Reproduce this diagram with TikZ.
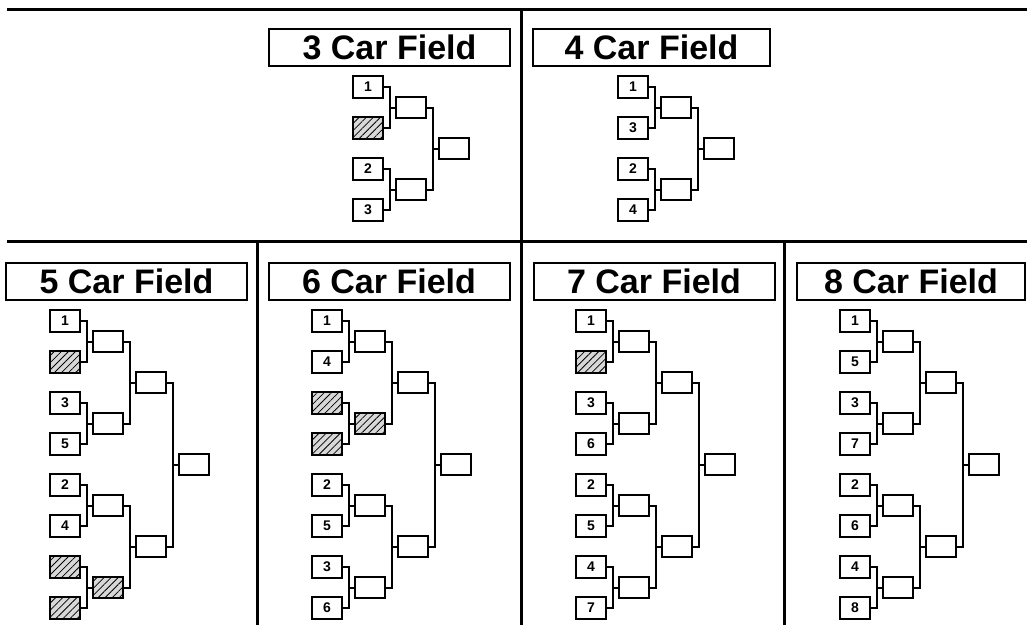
\documentclass[tikz,border=0pt]{standalone}
\usepackage{fontspec}
\setmainfont{Liberation Sans}
\usepackage{xcolor,tikz}
\usetikzlibrary{positioning,calc,patterns.meta}
\definecolor{byeGrey}{HTML}{D8D8D8}

\tikzset{
  seedbox/.style={draw, line width=2pt, minimum width=30pt, minimum height=22pt,
    inner sep=0pt, outer sep=0pt, font=\fontsize{14}{14}\selectfont\bfseries},
  roundbox/.style={seedbox, minimum height=21pt},
  byebox/.style={seedbox, preaction={fill=byeGrey},
    pattern={Lines[angle=45,distance=5pt,line width=0.8pt]}},
  byeround/.style={byebox, minimum height=21pt},
  title/.style={draw, line width=2pt, minimum width=241pt, minimum height=37pt,
    inner sep=0pt, outer sep=0pt, font=\fontsize{34}{36}\selectfont\bfseries},
  wire/.style={line width=2pt},
  rule/.style={line width=3pt}
}

% seeds of one field, top to bottom
\newcommand\seedcol[4]{% #1 field, #2 left x, #3 first centre y, #4 label/style list
  \foreach [count=\i] \lab/\sty in {#4}
    \node[\sty, anchor=west] (#1s\i) at (#2, #3 + \i*\pitch - \pitch) {\lab};
}
% two boxes feed one box in the next column
\newcommand\joinpair[4]{% #1, #2 feeders, #3 new box, #4 its style
  \path (#1.east) -- (#2.east) coordinate[midway] (#3m);
  \node[#4, right=13pt of #3m] (#3) {};
  \draw[wire] (#1.east) -- ++(7,0) |- (#2.east);
  \draw[wire] (#3.west) -- ++(-6,0);
}
\newcommand\nextround[4]{% #1 from, #2 to, #3 field, #4 style list
  \foreach [count=\k] \sty in {#4} {
    \pgfmathtruncatemacro\ia{2*\k-1}
    \pgfmathtruncatemacro\ib{2*\k}
    \joinpair{#3#1\ia}{#3#1\ib}{#3#2\k}{\sty}
  }
}

\begin{document}
\begin{tikzpicture}[x=1pt, y=-1pt]

% --- PARAMETERS ---
\def\pitch{41}     % seed to seed
\def\topY{87}      % first seed, top row
\def\lowY{321}     % first seed, bottom row

\useasboundingbox (0,0) rectangle (1027,625);
\clip (0,0) rectangle (1027,625);

% --- FRAME ---
\draw[rule] (7,9) -- (1027,9);
\draw[rule] (7,241) -- (1027,241);
\draw[rule] (521,9) -- (521,625);
\draw[rule] (257,241) -- (257,625);
\draw[rule] (784,241) -- (784,625);

% --- 3 CAR FIELD ---
\node[title] (t3) at (389.5,47) {3 Car Field};
\seedcol{f3}{353}{\topY}{1/seedbox,/byebox,2/seedbox,3/seedbox}
\nextround{s}{a}{f3}{roundbox,roundbox}
\nextround{a}{b}{f3}{roundbox}

% --- 4 CAR FIELD ---
\node[title, minimum width=237pt] (t4) at (651.5,47) {4 Car Field};
\seedcol{f4}{618}{\topY}{1/seedbox,3/seedbox,2/seedbox,4/seedbox}
\nextround{s}{a}{f4}{roundbox,roundbox}
\nextround{a}{b}{f4}{roundbox}

% --- 5 CAR FIELD ---
\node[title] (t5) at (126.5,281) {5 Car Field};
\seedcol{f5}{50}{\lowY}{1/seedbox,/byebox,3/seedbox,5/seedbox,2/seedbox,4/seedbox,/byebox,/byebox}
\nextround{s}{a}{f5}{roundbox,roundbox,roundbox,byeround}
\nextround{a}{b}{f5}{roundbox,roundbox}
\nextround{b}{c}{f5}{roundbox}

% --- 6 CAR FIELD ---
\node[title] (t6) at (389,281) {6 Car Field};
\seedcol{f6}{312}{\lowY}{1/seedbox,4/seedbox,/byebox,/byebox,2/seedbox,5/seedbox,3/seedbox,6/seedbox}
\nextround{s}{a}{f6}{roundbox,byeround,roundbox,roundbox}
\nextround{a}{b}{f6}{roundbox,roundbox}
\nextround{b}{c}{f6}{roundbox}

% --- 7 CAR FIELD ---
\node[title] (t7) at (654,281) {7 Car Field};
\seedcol{f7}{576}{\lowY}{1/seedbox,/byebox,3/seedbox,6/seedbox,2/seedbox,5/seedbox,4/seedbox,7/seedbox}
\nextround{s}{a}{f7}{roundbox,roundbox,roundbox,roundbox}
\nextround{a}{b}{f7}{roundbox,roundbox}
\nextround{b}{c}{f7}{roundbox}

% --- 8 CAR FIELD ---
\node[title, minimum width=228pt] (t8) at (911,281) {8 Car Field};
\seedcol{f8}{840}{\lowY}{1/seedbox,5/seedbox,3/seedbox,7/seedbox,2/seedbox,6/seedbox,4/seedbox,8/seedbox}
\nextround{s}{a}{f8}{roundbox,roundbox,roundbox,roundbox}
\nextround{a}{b}{f8}{roundbox,roundbox}
\nextround{b}{c}{f8}{roundbox}

\end{tikzpicture}
\end{document}
